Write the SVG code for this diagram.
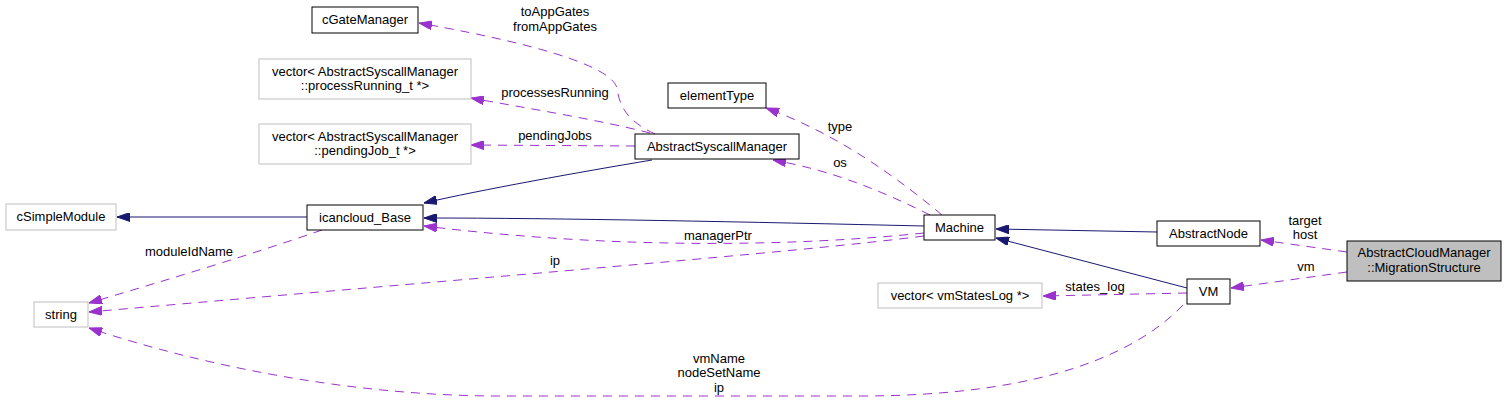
<svg xmlns="http://www.w3.org/2000/svg" width="1507" height="401" viewBox="0 0 1507 401">
<style>
text{font-family:"Liberation Sans",Arial,sans-serif;font-size:13px;fill:#000;text-anchor:middle}
.n{fill:#fff;stroke:#000;stroke-width:1}
.g{fill:#fff;stroke:#bfbfbf;stroke-width:1}
.h{fill:#bfbfbf;stroke:#000;stroke-width:1}
.inh{fill:none;stroke:#191970;stroke-width:1;marker-end:url(#an)}
.use{fill:none;stroke:#9a32cd;stroke-width:1;stroke-dasharray:9,7;marker-end:url(#ap)}
</style>
<defs>
<marker id="an" markerUnits="userSpaceOnUse" viewBox="0 0 13 9" refX="13" refY="4.5" markerWidth="13" markerHeight="9" orient="auto"><path d="M0,0 L13,4.5 L0,9 z" fill="#191970" stroke="#191970"/></marker>
<marker id="ap" markerUnits="userSpaceOnUse" viewBox="0 0 13 9" refX="13" refY="4.5" markerWidth="13" markerHeight="9" orient="auto"><path d="M0,0 L13,4.5 L0,9 z" fill="#9a32cd" stroke="#9a32cd"/></marker>
</defs>
<rect width="1507" height="401" fill="#fff"/>
<g id="connectors">
<path class="inh" d="M307,217 L117,217"/>
<path class="inh" d="M652,160 C580,172 480,190 424,203"/>
<path class="inh" d="M924,226 C750,222 560,218 424,218"/>
<path class="use" d="M924,233 C800,246 620,250 424,226"/>
<path class="use" d="M924,236 C800,252 500,276 89,312"/>
<path class="use" d="M322,230 C250,255 160,282 89,303"/>
<path class="use" d="M1183,305 C1140,350 1050,396 860,396 L500,396 C350,396 200,365 89,328"/>
<path class="use" d="M655,134 C630,122 620,110 617,88 C612,70 560,48 419,23"/>
<path class="use" d="M650,133 C600,120 520,107 471,98"/>
<path class="use" d="M635,146 L471,145"/>
<path class="use" d="M942,215 C900,180 840,135 766,108"/>
<path class="use" d="M930,215 C880,190 830,170 773,160"/>
<path class="inh" d="M1157,232 L996,229"/>
<path class="inh" d="M1187,288 L996,238"/>
<path class="use" d="M1347,252 L1261,240"/>
<path class="use" d="M1347,272 L1231,288"/>
<path class="use" d="M1187,293 L1043,296"/>
<text x="555" y="16">toAppGates</text>
<text x="555" y="31">fromAppGates</text>
<text x="555" y="97">processesRunning</text>
<text x="555" y="140">pendingJobs</text>
<text x="840" y="131">type</text>
<text x="840" y="167">os</text>
<text x="189" y="256">moduleIdName</text>
<text x="718" y="240">managerPtr</text>
<text x="555" y="265">ip</text>
<text x="719" y="363">vmName</text>
<text x="719" y="377">nodeSetName</text>
<text x="719" y="392">ip</text>
<text x="1305" y="225">target</text>
<text x="1305" y="239">host</text>
<text x="1306" y="271">vm</text>
<text x="1095" y="291">states_log</text>
</g>
<g id="cGateManager"><rect class="n" x="312" y="7" width="106" height="26"/><text x="365" y="24">cGateManager</text></g>
<g id="vecProcessRunning"><rect class="g" x="259" y="59" width="212" height="40"/><text x="365" y="76">vector&lt; AbstractSyscallManager</text><text x="365" y="90">::processRunning_t *&gt;</text></g>
<g id="vecPendingJob"><rect class="g" x="259" y="124" width="212" height="40"/><text x="365" y="141">vector&lt; AbstractSyscallManager</text><text x="365" y="155">::pendingJob_t *&gt;</text></g>
<g id="elementType"><rect class="n" x="668" y="83" width="98" height="25"/><text x="717" y="100">elementType</text></g>
<g id="AbstractSyscallManager"><rect class="n" x="635" y="134" width="164" height="25"/><text x="717" y="151">AbstractSyscallManager</text></g>
<g id="cSimpleModule"><rect class="g" x="6" y="204" width="110" height="26"/><text x="61" y="221">cSimpleModule</text></g>
<g id="icancloud_Base"><rect class="n" x="307" y="205" width="116" height="25"/><text x="365" y="222">icancloud_Base</text></g>
<g id="string"><rect class="g" x="34" y="302" width="54" height="25"/><text x="61" y="319">string</text></g>
<g id="Machine"><rect class="n" x="924" y="215" width="71" height="25"/><text x="959.5" y="232">Machine</text></g>
<g id="vecVmStatesLog"><rect class="g" x="878" y="283" width="164" height="25"/><text x="960" y="300">vector&lt; vmStatesLog *&gt;</text></g>
<g id="AbstractNode"><rect class="n" x="1157" y="221" width="103" height="25"/><text x="1208.5" y="238">AbstractNode</text></g>
<g id="VM"><rect class="n" x="1187" y="279" width="43" height="25"/><text x="1208.5" y="296">VM</text></g>
<g id="MigrationStructure"><rect class="h" x="1347" y="241" width="154" height="40"/><text x="1424" y="257">AbstractCloudManager</text><text x="1424" y="272">::MigrationStructure</text></g>
</svg>
